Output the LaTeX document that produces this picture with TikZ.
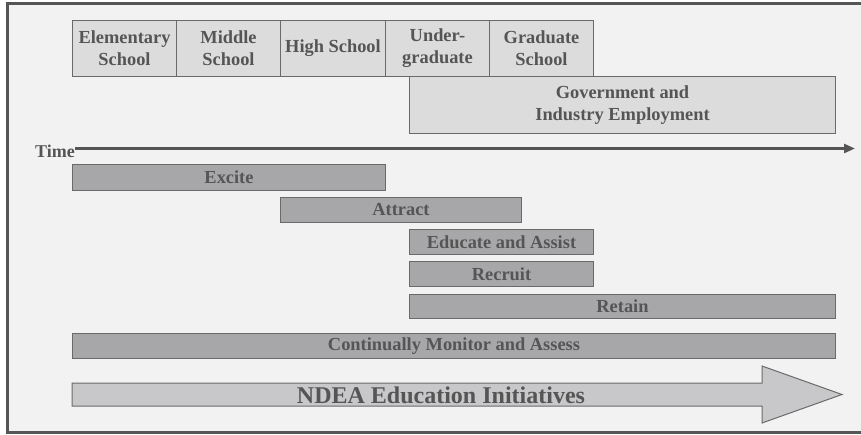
\documentclass[tikz,border=0pt]{standalone}
\usepackage{fontspec}
\setmainfont{Liberation Serif}
\usetikzlibrary{arrows.meta}
\definecolor{bg}{HTML}{F2F2F2}
\definecolor{frame}{HTML}{555555}
\definecolor{edge}{HTML}{6A6A6A}
\definecolor{lightbox}{HTML}{DCDCDD}
\definecolor{darkbar}{HTML}{A7A7AA}
\definecolor{arrowfill}{HTML}{C8C8CA}
\definecolor{txt}{HTML}{555555}
\tikzset{
  stage/.style={draw=edge, fill=lightbox, line width=1pt, inner sep=0pt, align=center,
    text=txt, font=\fontsize{18.4}{22}\selectfont\bfseries, anchor=north west},
  bar/.style={draw=edge, fill=darkbar, line width=1pt, inner sep=0pt, align=center,
    text=txt, font=\fontsize{18.4}{22}\selectfont\bfseries, anchor=north west},
}
\begin{document}
\begin{tikzpicture}[x=1pt,y=-1pt]
\useasboundingbox (0,0) rectangle (861,435);
\fill[white] (0,0) rectangle (861,435);
\fill[bg] (7.5,3.5) rectangle (861,432.5);
\draw[frame, line width=3pt] (861,3.5) -- (7.5,3.5) -- (7.5,432.5) -- (861,432.5);
% stages
\node[stage, minimum width=104pt, minimum height=56pt] (elem) at (72,20) {Elementary\\School};
\node[stage, minimum width=104pt, minimum height=56pt] (mid) at (176,20) {Middle\\School};
\node[stage, minimum width=105pt, minimum height=56pt] (high) at (280,20) {High School};
\node[stage, minimum width=104pt, minimum height=56pt] (under) at (385,20) {Under-\\graduate};
\node[stage, minimum width=104pt, minimum height=56pt] (grad) at (489,20) {Graduate\\School};
\node[stage, minimum width=426pt, minimum height=57pt] (gov) at (409,76) {Government and\\Industry Employment};
% time axis
\node[text=txt, font=\fontsize{18}{22}\selectfont\bfseries, anchor=east, inner sep=0pt] (time) at (75,151) {Time};
\coordinate (tend) at (855,148.5);
\draw[frame, line width=2.5pt, -{Triangle[length=11pt,width=9pt]}] (time.east |- tend) -- (tend);
% bars
\node[bar, minimum width=313pt, minimum height=26pt] (excite) at (72,164) {Excite};
\node[bar, minimum width=241pt, minimum height=25pt] (attract) at (280,197) {Attract};
\node[bar, minimum width=184pt, minimum height=25pt] (educate) at (409,229) {Educate and Assist};
\node[bar, minimum width=184pt, minimum height=25pt] (recruit) at (409,261) {Recruit};
\node[bar, minimum width=426pt, minimum height=24pt] (retain) at (409,294) {Retain};
\node[bar, minimum width=763pt, minimum height=25pt] (monitor) at (72,333) {Continually Monitor and Assess};
% NDEA arrow
\draw[edge, fill=arrowfill, line width=1pt] (72,383) -- (762,383) -- (762,366) -- (842,394.5) -- (762,423) -- (762,406) -- (72,406) -- cycle;
\node[text=txt, font=\fontsize{24}{28}\selectfont\bfseries, inner sep=0pt] (ndea) at (441,395) {NDEA Education Initiatives};
\end{tikzpicture}
\end{document}
